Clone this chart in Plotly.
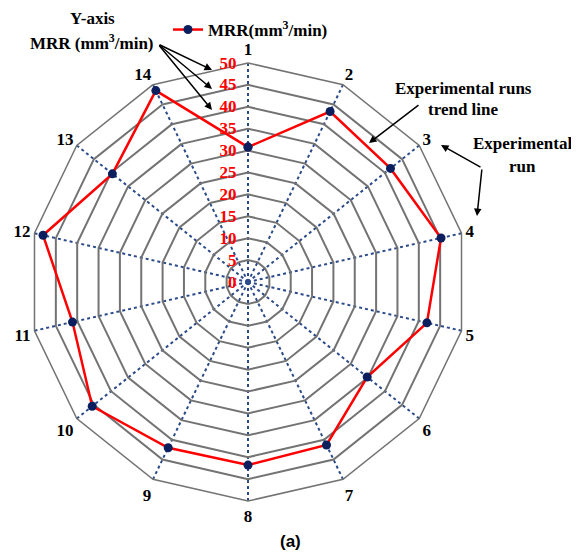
import plotly.graph_objects as go

runs = [str(i) for i in range(1, 15)]
mrr = [30.8, 43.2, 41.6, 45.2, 41.9, 34.8, 41.3, 41.8, 42.0, 45.5, 41.1, 48.0, 39.6, 48.5]
radial_ticks = [0, 5, 10, 15, 20, 25, 30, 35, 40, 45, 50]

W, H = 579, 556
OFF = 8  # page body margin
cx, cy, R = 248, 282, 219

def px(x):
    return (x - OFF) / W

def py(y):
    return 1 - (y - OFF) / H

fig = go.Figure()
fig.add_trace(go.Scatterpolar(
    r=mrr + [mrr[0]],
    theta=runs + [runs[0]],
    mode="lines+markers",
    name="MRR(mm<sup>3</sup>/min)",
    line=dict(color="#FF0000", width=2.5),
    marker=dict(color="#0B1F5E", size=9),
))

serif = "Liberation Serif"
fig.update_layout(
    width=W, height=H,
    margin=dict(l=0, r=0, t=0, b=0),
    paper_bgcolor="white",
    plot_bgcolor="white",
    polar=dict(
        domain=dict(x=[px(cx - R), px(cx + R)], y=[py(cy + R), py(cy - R)]),
        gridshape="linear",
        bgcolor="white",
        radialaxis=dict(
            range=[0, 50], tickvals=radial_ticks, angle=90, side="counterclockwise",
            tickangle=90,
            showline=False, ticks="outside", ticklen=5, tickcolor="rgba(0,0,0,0)",
            gridcolor="#737373", gridwidth=1.5,
            tickfont=dict(family=serif, size=17, color="#FF0000", weight="bold"),
        ),
        angularaxis=dict(
            direction="clockwise", rotation=90, type="category",
            showline=True, linecolor="#737373", linewidth=1.5,
            gridcolor="#2B4A8B", griddash="dot", gridwidth=1.7, ticks="",
            tickfont=dict(family=serif, size=17, color="black", weight="bold"),
        ),
    ),
    showlegend=True,
    legend=dict(
        x=px(168), y=py(12), xanchor="left", yanchor="top",
        bgcolor="rgba(255,255,255,0)", itemwidth=30,
        font=dict(family=serif, size=17, color="black", weight="bold"),
    ),
)

bold = dict(family=serif, size=17, color="black", weight="bold")

def label(x, y, text, font=bold):
    return dict(x=px(x), y=py(y), xref="paper", yref="paper", text=text, showarrow=False,
                xanchor="center", yanchor="middle", font=font)

def arrow(hx, hy, tx, ty):
    return dict(x=px(hx), y=py(hy), xref="paper", yref="paper", text="",
                ax=tx - hx, ay=ty - hy, showarrow=True, arrowhead=2, arrowsize=1,
                arrowwidth=1.5, arrowcolor="black")

ann = [
    label(92, 18, "Y-axis"),
    label(92, 42, "MRR (mm<sup>3</sup>/min)"),
    label(463, 88, "Experimental runs"),
    label(463, 110, "trend line"),
    label(522, 143, "Experimental"),
    label(522, 166, "run"),
    label(290, 541, "(a)", dict(family="Liberation Sans", size=17, color="black", weight="bold")),
]
for hx, hy in [(212, 70), (212, 89), (212, 110)]:
    ann.append(arrow(hx, hy, 158, 44))
ann.append(arrow(369, 143, 420, 104))
ann.append(arrow(441, 145, 482, 168))
ann.append(arrow(477, 216, 482, 168))
fig.update_layout(annotations=ann)

fig.write_html("out.html")
